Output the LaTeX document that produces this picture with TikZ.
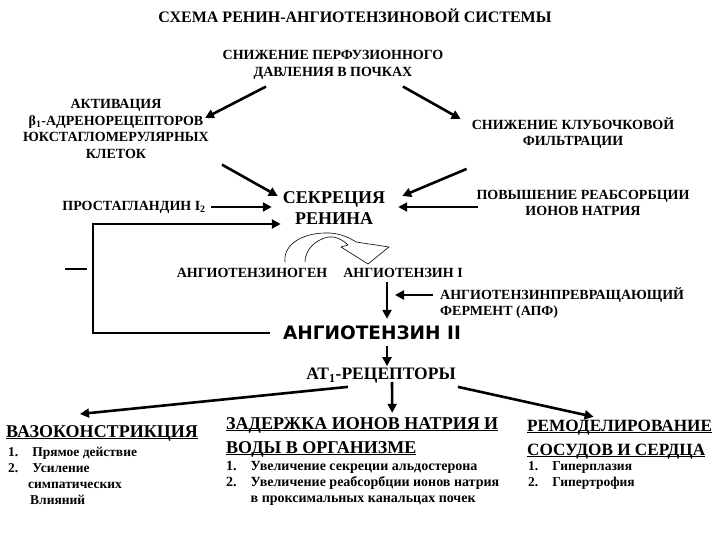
\documentclass[tikz,border=0pt]{standalone}
\usepackage{fontspec}
\setmainfont{Liberation Serif}
\newfontfamily\headsans{DejaVu Sans}
\usetikzlibrary{arrows.meta}

\newcommand{\uln}[1]{\underline{\smash{#1}}}

\tikzset{
  txt/.style={font=\bfseries\fontsize{14}{16.5}\selectfont, align=center, inner sep=0pt},
  big/.style={font=\bfseries\fontsize{18}{21}\selectfont, align=center, inner sep=0pt},
  head/.style={font=\bfseries\fontsize{18}{24}\selectfont, align=left, inner sep=0pt, anchor=west},
  items/.style={font=\bfseries\fontsize{13.5}{16}\selectfont, align=left, inner sep=0pt, anchor=west},
  arr/.style={line width=2.6pt, -{Triangle[length=9pt,width=9pt]}},
}

\begin{document}
\begin{tikzpicture}[x=1pt,y=-1pt]
\useasboundingbox (0,0) rectangle (720,540);

% zagolovok
\node[txt, font=\bfseries\fontsize{16}{19}\selectfont] (title) at (355,16) {СХЕМА РЕНИН-АНГИОТЕНЗИНОВОЙ СИСТЕМЫ};

% verhnij romb
\node[txt] (perf) at (333,65) {СНИЖЕНИЕ ПЕРФУЗИОННОГО\\ДАВЛЕНИЯ В ПОЧКАХ};
\node[txt] (beta) at (116,129) {АКТИВАЦИЯ\\β\textsubscript{1}-АДРЕНОРЕЦЕПТОРОВ\\ЮКСТАГЛОМЕРУЛЯРНЫХ\\КЛЕТОК};
\node[txt] (klub) at (573,133) {СНИЖЕНИЕ КЛУБОЧКОВОЙ\\ФИЛЬТРАЦИИ};
\node[big] (sekr) at (334,208) {СЕКРЕЦИЯ\\РЕНИНА};
\node[txt] (prost) at (134,207) {ПРОСТАГЛАНДИН I\textsubscript{2}};
\node[txt] (povysh) at (583,203) {ПОВЫШЕНИЕ РЕАБСОРБЦИИ\\ИОНОВ НАТРИЯ};

\draw[arr] ([xshift=-67pt,yshift=-7pt]perf.south) -- ([xshift=-4pt,yshift=11pt]beta.east);
\draw[arr] ([xshift=70pt,yshift=-7pt]perf.south) -- ([xshift=-11pt,yshift=14pt]klub.west);
\draw[arr] ([xshift=13pt,yshift=-6pt]beta.south east) -- ([xshift=-5pt,yshift=12pt]sekr.west);
\draw[arr] ([xshift=-5pt,yshift=-20pt]klub.south west) -- ([xshift=17pt,yshift=12pt]sekr.east);
\draw[arr] ([xshift=5pt]prost.east) -- ([xshift=-11pt,yshift=1pt]sekr.west);
\draw[arr] ([xshift=2pt,yshift=-4pt]povysh.west) -- ([xshift=13pt,yshift=1pt]sekr.east);

% kaskad
\node[txt] (angen) at (252,273) {АНГИОТЕНЗИНОГЕН};
\node[txt] (angI) at (403,273) {АНГИОТЕНЗИН I};
\node[txt, align=left, anchor=west] (ace) at (440,303) {АНГИОТЕНЗИНПРЕВРАЩАЮЩИЙ\\ФЕРМЕНТ (АПФ)};
\node[inner sep=0pt, font=\headsans\bfseries\fontsize{18.5}{22}\selectfont] (ang2) at (372,333) {АНГИОТЕНЗИН II};
\node[txt, font=\bfseries\fontsize{17.5}{20}\selectfont] (at1) at (381,376) {АТ\textsubscript{1}-РЕЦЕПТОРЫ};
\coordinate (acejoin) at (395,295);

\draw[line width=0.6pt] (285,262) .. controls (283,243) and (305,232) .. (330,233)
  .. controls (342,234) and (350,238) .. (356,242) -- (389,247) -- (368,264) -- (341,247)
  -- (348,245) .. controls (342,239) and (334,236) .. (328,237)
  .. controls (315,240) and (305,250) .. (305,262);

\draw[arr] ([xshift=-16pt,yshift=-4pt]angI.south) -- ([xshift=15pt,yshift=7pt]ang2.north);
\draw[arr] ([xshift=-7pt,yshift=8pt]ace.west) -- (acejoin);
\draw[arr] ([xshift=15pt,yshift=-6pt]ang2.south) -- ([xshift=6pt,yshift=2pt]at1.north);

% obratnaja svjaz
\draw[arr] ([xshift=-13pt]ang2.west) -- ++(-177,0) |- ([xshift=-2pt,yshift=-16pt]sekr.west);
\draw[line width=1.8pt] (65,269) -- (87,269);

% effekty
\node[head] (vaz) at (6,438) {\uln{ВАЗОКОНСТРИКЦИЯ}};
\node[head] (zad) at (226,442) {\uln{ЗАДЕРЖКА ИОНОВ НАТРИЯ И}\\\uln{ВОДЫ В ОРГАНИЗМЕ}};
\node[head, font=\bfseries\fontsize{17.2}{24}\selectfont] (rem) at (527,444) {\uln{РЕМОДЕЛИРОВАНИЕ}\\\uln{СОСУДОВ И СЕРДЦА}};

\node[items] (vazlist) at (8,477) {\begin{tabular}{@{}l@{\hspace{14pt}}l@{}}
  1. & Прямое действие\\ 2. & Усиление\\
  \multicolumn{2}{@{}l}{\hspace{20pt}симпатических}\\
  \multicolumn{2}{@{}l}{\hspace{22pt}Влияний}\end{tabular}};
\node[items, font=\bfseries\fontsize{14}{16}\selectfont] (zadlist) at (226,483) {\begin{tabular}{@{}l@{\hspace{14pt}}l@{}}
  1. & Увеличение секреции альдостерона\\
  2. & Увеличение реабсорбции ионов натрия\\
     & в проксимальных канальцах почек\end{tabular}};
\node[items] (remlist) at (528,475.5) {\begin{tabular}{@{}l@{\hspace{14pt}}l@{}}
  1. & Гиперплазия\\ 2. & Гипертрофия\end{tabular}};

\draw[arr] ([xshift=-33pt,yshift=-3pt]at1.south) -- (80,414);
\draw[arr] ([xshift=11pt,yshift=2pt]at1.south) -- ([xshift=30pt,yshift=16pt]zad.north);
\draw[arr] ([xshift=2pt,yshift=-3pt]at1.south east) -- ([xshift=-26pt,yshift=14pt]rem.north);

\end{tikzpicture}
\end{document}
